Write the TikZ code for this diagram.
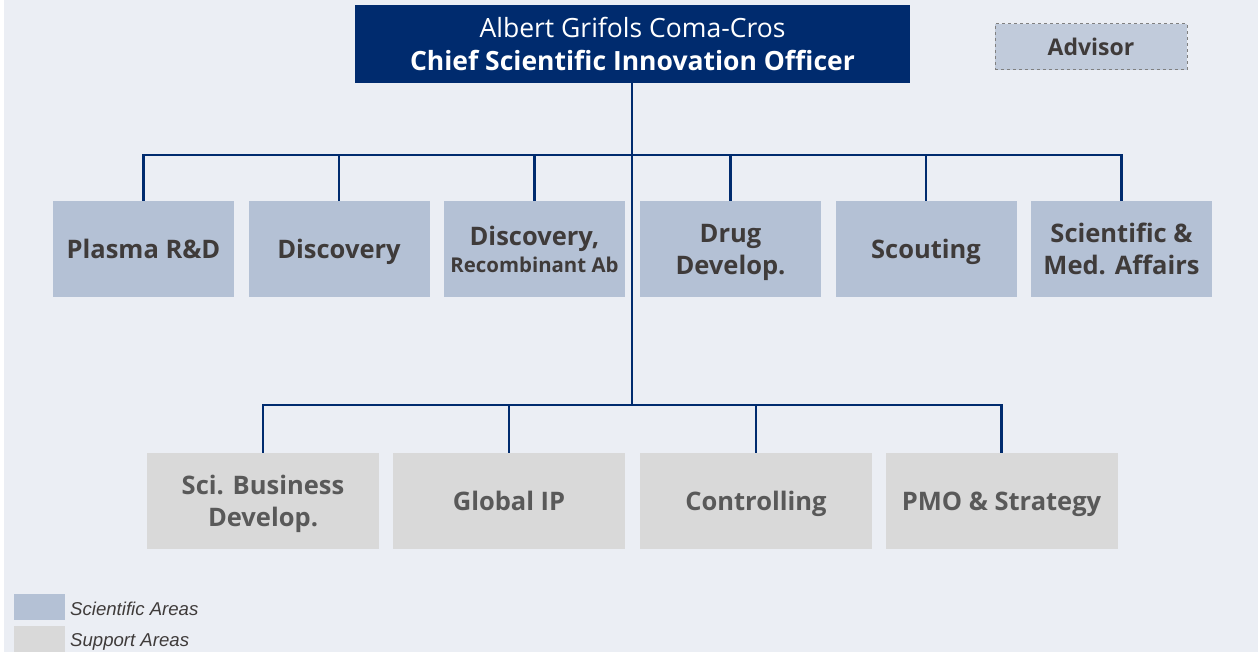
\documentclass[tikz,border=0pt]{standalone}
\usepackage{fontspec}
\setmainfont{Open Sans}
\newfontfamily\legendfont{Liberation Sans}
\usepackage{tikz}
\usetikzlibrary{positioning,calc}

\definecolor{pagebg}{HTML}{EBEEF4}
\definecolor{navy}{HTML}{002B6E}
\definecolor{sciblue}{HTML}{B4C1D5}
\definecolor{advblue}{HTML}{C1CBDB}
\definecolor{suppgray}{HTML}{D9D9D9}
\definecolor{txtdark}{HTML}{3F3B3A}
\definecolor{txtgray}{HTML}{595959}

\begin{document}
\begin{tikzpicture}[
    x=1pt, y=-1pt,
    ceobox/.style={fill=navy, text=white, minimum width=555pt,
                   minimum height=78pt, align=center, inner sep=0pt,
                   text depth=-4pt,
                   font=\fontsize{26.5}{33}\selectfont},
    scibox/.style={fill=sciblue, text=txtdark, minimum width=181pt,
                   minimum height=96pt, align=center, inner sep=0pt,
                   text depth=-4pt,
                   font=\fontsize{25.5}{32}\selectfont\bfseries},
    suppbox/.style={fill=suppgray, text=txtgray, minimum width=232pt,
                    minimum height=96pt, align=center, inner sep=0pt,
                    text depth=-4pt,
                    font=\fontsize{25.5}{32}\selectfont\bfseries},
    advbox/.style={fill=advblue, draw=gray, dashed, line width=1pt,
                   text=txtdark, minimum width=192pt, minimum height=46pt,
                   inner sep=0pt, font=\fontsize{23}{26}\selectfont\bfseries},
    link/.style={draw=navy, line width=2.5pt},
    keybox/.style={minimum width=51pt, minimum height=26pt, inner sep=0pt},
    keytext/.style={anchor=west, inner sep=0pt, text=txtdark,
                    font=\legendfont\itshape\fontsize{18.6}{22}\selectfont},
  ]

  % Background
  \useasboundingbox (0,0) rectangle (1258,655);
  \fill[white] (0,0) rectangle (1258,655);
  \fill[pagebg] (4,0) rectangle (1258,652);

  % Row 0: CEO and advisor
  \node[ceobox] at (632.5, 44) (ceo)
    {Albert Grifols Coma-Cros\\
     \bfseries Chief Scientific Innovation Officer};
  \node[advbox] at (1091, 47) (advisor) {Advisor};

  % Row 1: Scientific areas
  \node[scibox] at (143.5, 249) (plasma) {Plasma R\&D};
  \node[scibox] at (339, 249) (disc) {Discovery};
  \node[scibox] at (534.5, 249) (recomb)
    {Discovery,\\[-5pt]{\fontsize{20.4}{24}\selectfont Recombinant Ab}};
  \node[scibox] at (730.5, 249) (drug) {Drug\\Develop.};
  \node[scibox] at (926, 249) (scout) {Scouting};
  \node[scibox] at (1121.5, 249) (medaff) {Scientific \&\\Med. Affairs};

  % Row 2: Support areas
  \node[suppbox] at (263, 501) (bizdev) {Sci. Business\\Develop.};
  \node[suppbox] at (509, 501) (ip) {Global IP};
  \node[suppbox] at (756, 501) (ctrl) {Controlling};
  \node[suppbox] at (1001.5, 501) (pmo) {PMO \& Strategy};

  % Bus lines
  \coordinate (topbus) at (632, 155);
  \coordinate (lowbus) at (632, 405);
  \draw[link] (ceo.south -| topbus) -- (lowbus);
  \foreach \n in {plasma, disc, recomb, drug, scout, medaff}
    \draw[link] (\n.north) |- (topbus);
  \foreach \n in {bizdev, ip, ctrl, pmo}
    \draw[link] (\n.north) |- (lowbus);

  % Legend
  \node[keybox, fill=sciblue] at (39.5, 607) (keysci) {};
  \node[keybox, fill=suppgray] at (39.5, 639) (keysupp) {};
  \node[keytext] at (70, 609) (labsci) {Scientific Areas};
  \node[keytext] at (70, 641.5) (labsupp) {Support Areas};

\end{tikzpicture}
\end{document}
